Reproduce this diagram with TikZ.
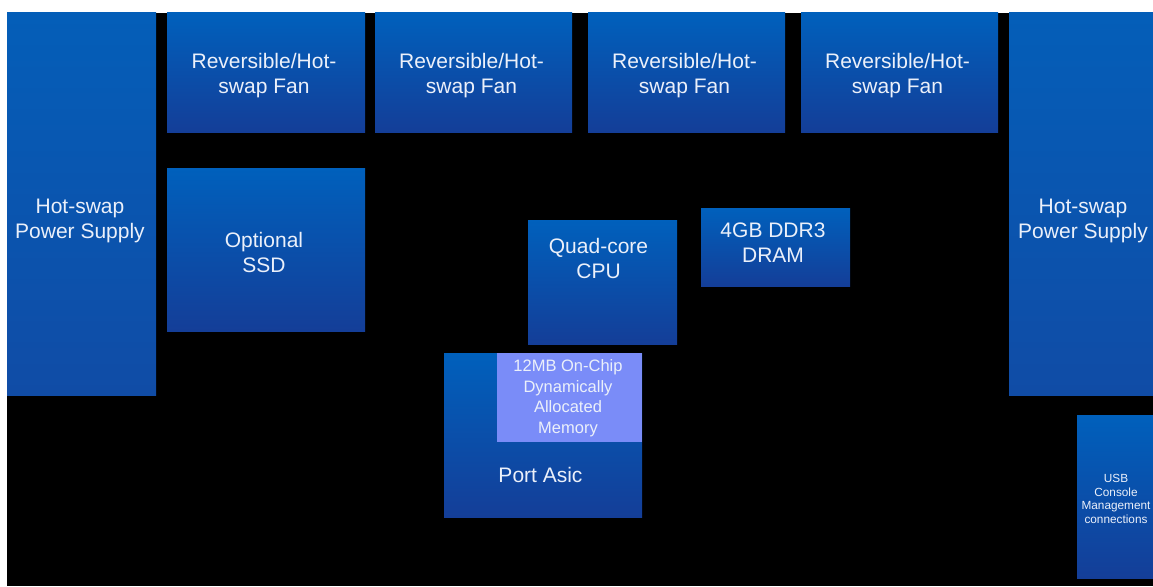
\documentclass[tikz,border=0pt]{standalone}
\usepackage{fontspec}
\setmainfont{Liberation Sans}
\definecolor{btop}{RGB}{0,96,188}
\definecolor{bbot}{RGB}{20,62,152}
\definecolor{ptop}{RGB}{4,94,184}
\definecolor{pbot}{RGB}{16,76,166}
\definecolor{memc}{RGB}{122,140,248}
\definecolor{txt}{RGB}{235,240,250}
\tikzset{
  blk/.style={rectangle, inner sep=0pt, outer sep=0pt, draw=none, top color=btop, bottom color=bbot},
  psublk/.style={blk, top color=ptop, bottom color=pbot},
  memblk/.style={rectangle, inner sep=0pt, outer sep=0pt, draw=none, fill=memc},
  lbl/.style={text=txt, align=center, font=\fontsize{21}{25}\selectfont, inner sep=0pt},
  memlbl/.style={text=txt, align=center, font=\fontsize{16.5}{20.5}\selectfont, inner sep=0pt},
  usblbl/.style={text=txt, align=center, font=\fontsize{11.8}{13.6}\selectfont, inner sep=0pt}
}
\begin{document}
\begin{tikzpicture}[x=1pt, y=-1pt]
\useasboundingbox (0,0) rectangle (1153,586);
\fill[white] (0,0) rectangle (1153,586);
\fill[black] (7,13) rectangle (1153,586);
% boxes
\node[psublk, minimum width=149pt, minimum height=382pt] (psuL) at (81.5,204) {};
\node[blk, minimum width=198pt, minimum height=119pt] (fan1) at (266,72.5) {};
\node[blk, minimum width=197pt, minimum height=119pt] (fan2) at (473.5,72.5) {};
\node[blk, minimum width=197pt, minimum height=119pt] (fan3) at (686.5,72.5) {};
\node[blk, minimum width=197pt, minimum height=119pt] (fan4) at (899.5,72.5) {};
\node[psublk, minimum width=144pt, minimum height=382pt] (psuR) at (1081,204) {};
\node[blk, minimum width=198pt, minimum height=163pt] (ssd) at (266,249.5) {};
\node[blk, minimum width=149pt, minimum height=124pt] (cpu) at (602.5,282) {};
\node[blk, minimum width=149pt, minimum height=78pt] (dram) at (775.5,247) {};
\node[blk, minimum width=198pt, minimum height=164pt] (asic) at (543,435) {};
\node[memblk, minimum width=145pt, minimum height=89pt] (mem) at (569.5,397.5) {};
\node[blk, minimum width=76pt, minimum height=163pt] (usb) at (1115,496.5) {};
% labels
\node[lbl] (psuL-t) at (80,221) {Hot-swap\\Power Supply};
\node[lbl] (psuR-t) at (1083,221) {Hot-swap\\Power Supply};
\node[lbl] (fan1-t) at (264,76) {Reversible/Hot-\\swap Fan};
\node[lbl] (fan2-t) at (471.5,76) {Reversible/Hot-\\swap Fan};
\node[lbl] (fan3-t) at (684.5,76) {Reversible/Hot-\\swap Fan};
\node[lbl] (fan4-t) at (897.5,76) {Reversible/Hot-\\swap Fan};
\node[lbl] (ssd-t) at (264,252) {Optional\\SSD};
\node[lbl] (cpu-t) at (598.5,258) {Quad-core\\CPU};
\node[lbl] (dram-t) at (773,243) {4GB DDR3\\DRAM};
\node[lbl] (asic-t) at (540.5,475) {Port Asic};
\node[memlbl] (mem-t) at (568,398) {12MB On-Chip\\Dynamically\\Allocated\\Memory};
\node[usblbl] (usb-t) at (1116,499) {USB\\Console\\Management\\connections};
\end{tikzpicture}
\end{document}
